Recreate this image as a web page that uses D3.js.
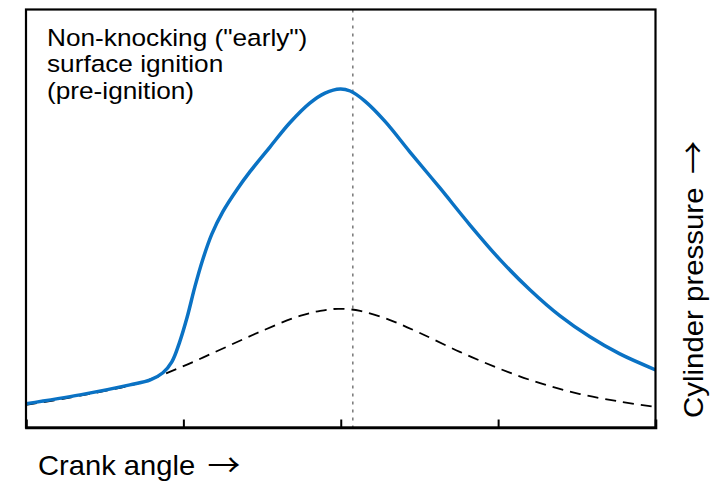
<!DOCTYPE html>
<html><head><meta charset="utf-8">
<script src="https://cdn.jsdelivr.net/npm/d3@7"></script>
<style>html,body{margin:0;padding:0;background:#fff;}svg{display:block;}</style>
</head><body>
<svg id="chart" width="720" height="485"></svg>
<script>
// Crank angle (deg, TDC = 0) and cylinder pressure (relative units)
const preIgnitionAngle = [-60,-49.7,-40.2,-36.3,-33.9,-32.2,-30.7,-29.3,-27.8,-26.3,-24.6,-22.5,-19.8,-17.3,-13.5,-9.7,-5.9,-3.0,-0.1,1.8,4.6,8.4,13.2,18.9,24.6,30.4,36.1,41.8,47.5,53.2,60];
const preIgnitionPressure = [5.7,7.8,10.2,11.4,13.1,15.7,20.5,26.3,33.7,40.2,46.2,51.6,56.9,61.2,67.1,72.9,77.6,80.0,81.0,80.5,78.1,73.3,65.9,57.3,48.5,40.1,32.9,26.7,21.7,17.6,13.8];
const motoredAngle = [-60,-49.7,-38.3,-30.7,-23.0,-15.4,-7.8,-3.9,-0.5,3.7,9.4,15.1,22.7,30.4,38.0,45.6,53.2,60];
const motoredPressure = [5.4,7.6,10.7,14.3,18.6,22.9,26.7,27.9,28.4,27.9,25.7,22.6,18.1,14.0,10.6,8.0,6.2,4.9];
const xTicks = [-30, 0, 30];
const markerAngle = 2.3;
const annotationLines = ['Non-knocking ("early")', 'surface ignition', '(pre-ignition)'];
const xLabel = 'Crank angle';
const yLabel = 'Cylinder pressure';
const arrow = '\u2192';

const svg = d3.select('#chart');
const m = {left: 26, right: 655.5, top: 9.5, bottom: 427.5};
const x = d3.scaleLinear().domain([-60, 60]).range([m.left, m.right]);
const y = d3.scaleLinear().domain([0, 100]).range([m.bottom, m.top]);

svg.append('defs').append('clipPath').attr('id','clip').append('rect')
  .attr('x', m.left).attr('y', m.top).attr('width', m.right-m.left).attr('height', m.bottom-m.top);

const plot = svg.append('g').attr('clip-path','url(#clip)');

// TDC marker
plot.append('line')
  .attr('x1', x(markerAngle)).attr('x2', x(markerAngle))
  .attr('y1', m.top).attr('y2', m.bottom)
  .attr('stroke', '#777').attr('stroke-width', 1.5).attr('stroke-dasharray', '3,5');

const line = d3.line().x(d => x(d[0])).y(d => y(d[1])).curve(d3.curveCatmullRom.alpha(0.5));

plot.append('path')
  .datum(d3.zip(motoredAngle, motoredPressure))
  .attr('d', line).attr('fill','none').attr('stroke','#000')
  .attr('stroke-width', 1.8).attr('stroke-dasharray','11,7');

plot.append('path')
  .datum(d3.zip(preIgnitionAngle, preIgnitionPressure))
  .attr('d', line).attr('fill','none').attr('stroke','#0a72c4')
  .attr('stroke-width', 3.5).attr('stroke-linejoin','round');

// frame
svg.append('rect')
  .attr('x', m.left).attr('y', m.top).attr('width', m.right-m.left).attr('height', m.bottom-m.top)
  .attr('fill','none').attr('stroke','#000').attr('stroke-width', 2.2);

// x-axis ticks (inward)
const xAxis = d3.axisBottom(x).tickValues(xTicks).tickSize(-8).tickFormat('');
const gx = svg.append('g').attr('transform', `translate(0,${m.bottom})`).call(xAxis);
gx.select('.domain').attr('stroke','#000').attr('stroke-width', 2.6);
gx.selectAll('.tick line').attr('stroke','#000').attr('stroke-width', 2);

const font = '"Liberation Sans", Arial, Helvetica, sans-serif';
const arrowFont = '"Noto Sans CJK JP", "DejaVu Sans", sans-serif';

const ann = svg.append('text').attr('transform','translate(47,0) scale(1.07,1)')
  .attr('font-family', font).attr('font-size', 24.5).attr('fill','#000');
annotationLines.forEach((t,i) => {
  ann.append('tspan').attr('x', 0).attr('y', 46 + i*26.5).text(t);
});

const xl = svg.append('g').attr('transform','translate(38,475) scale(1.06,1)');
xl.append('text').attr('font-family', font).attr('font-size', 27.5).attr('fill','#000').text(xLabel);
xl.append('text').attr('x', 160).attr('y', 1).attr('font-family', arrowFont).attr('font-size', 31).attr('fill','#000').text(arrow);

const yl = svg.append('g').attr('transform','translate(703,418) rotate(-90) scale(1.07,1)');
yl.append('text').attr('font-family', font).attr('font-size', 27.5).attr('fill','#000').text(yLabel);
yl.append('text').attr('x', 228).attr('y', 1).attr('font-family', arrowFont).attr('font-size', 31).attr('fill','#000').text(arrow);
</script>
</body></html>
